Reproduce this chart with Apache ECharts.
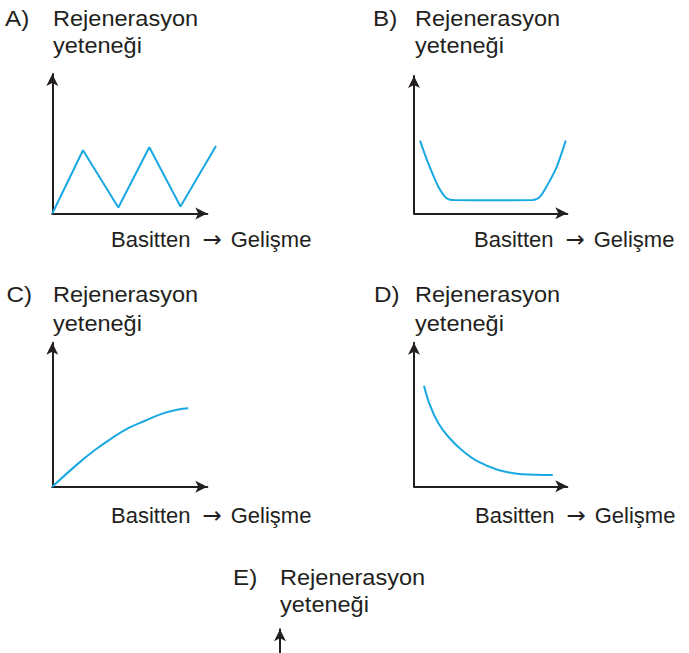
<!DOCTYPE html>
<html>
<head>
<meta charset="utf-8">
<script src="https://cdn.jsdelivr.net/npm/echarts@6/dist/echarts.min.js"></script>
<style>
html,body{margin:0;padding:0;background:#fff;}
#chart{width:689px;height:653px;}
</style>
</head>
<body>
<div id="chart"></div>
<script>
// ---- data ----
const panelLetters = ['A)', 'B)', 'C)', 'D)', 'E)'];
const yTitleLine1 = 'Rejenerasyon';
const yTitleLine2 = 'yeteneği';
const xTitleLeft = 'Basitten';
const xTitleArrow = '\u2192';
const xTitleRight = 'Gelişme';

const curveA = [[0, 0], [19.8, 45.3], [42.6, 4.3], [62.6, 47.5], [82.7, 5.0], [105.6, 48.4]];
const curveB = [[3.9, 52.9], [9.3, 36.4], [15.9, 19.4], [21.3, 10.9], [26, 9.6], [50, 9.5], [77.5, 9.6], [82.2, 12.1], [87.6, 21.8], [93.1, 33.9], [99.0, 52.9]];
const curveC = [[0, 0], [16.8, 16.2], [27.5, 25.5], [38.3, 33.6], [49, 40.6], [59.8, 45.8], [70.6, 50.6], [81.3, 53.6], [87.7, 54.4]];
const curveD = [[6.5, 70.1], [10.4, 56.6], [15.9, 43.9], [22.4, 34.5], [31.1, 25.3], [41.9, 17.1], [55, 11.4], [70.3, 8.4], [90.5, 7.9]];

// ---- layout / style ----
const AX = '#231f20';
const LINE = '#1aa8e2';
const FONT = 'Liberation Sans';

const grids = [
  {left: 52.3, top: 74, width: 155, height: 139.5},
  {left: 414, top: 76, width: 153.3, height: 137.3},
  {left: 52.3, top: 342.7, width: 155, height: 144},
  {left: 414, top: 342.7, width: 153.3, height: 143.6},
  {left: 280, top: 629.3, width: 100, height: 100},
  {left: 52.3, top: 74, width: 170.5, height: 139.5}   // overlay for A, lets the zigzag run past the arrow
];

function axisLine(show) {
  return {
    show: show,
    onZero: false,
    symbol: ['none', 'arrow'],
    symbolSize: [9, 12],
    lineStyle: {color: AX, width: 2}
  };
}
function makeX(i, show, max) {
  return {type: 'value', gridIndex: i, min: 0, max: max || 100, show: show,
    axisLine: axisLine(show), axisTick: {show: false}, axisLabel: {show: false}, splitLine: {show: false}};
}
function makeY(i, show) {
  return {type: 'value', gridIndex: i, min: 0, max: 100, show: show,
    axisLine: axisLine(show), axisTick: {show: false}, axisLabel: {show: false}, splitLine: {show: false}};
}
function makeSeries(i, data, smooth) {
  return {type: 'line', xAxisIndex: i, yAxisIndex: i, data: data, smooth: smooth,
    showSymbol: false, clip: false, silent: true,
    lineStyle: {color: LINE, width: 2}};
}

function txt(x, y, s, sx) {
  return {type: 'text', x: x, y: y, scaleX: sx || 1, silent: true,
    style: {text: s, fill: AX, fontSize: 22, fontFamily: FONT, align: 'left', verticalAlign: 'middle'}};
}
function xTxt(x, y) {
  return {type: 'text', x: x, y: y, silent: true,
    style: {
      text: xTitleLeft + '{arr|' + xTitleArrow + '}' + xTitleRight,
      fill: AX, fontSize: 22, fontFamily: FONT, align: 'left', verticalAlign: 'middle',
      rich: {arr: {fontSize: 23, fontFamily: 'DejaVu Sans', fill: AX, padding: [0, 9, 0, 12]}}
    }};
}

// text anchor positions per panel: [letterX, titleX, line1Y, line2Y, xTitleX, xTitleY]
const textPos = [
  [5, 53, 18.4, 45.4, 111, 239.4],
  [373, 415, 18.4, 45.4, 474, 239.4],
  [6.5, 53, 294.4, 323.4, 111, 515.4],
  [374, 415, 294.4, 323.4, 475, 515.4],
  [233, 280, 577.4, 604.4, null, null]
];
const graphics = [];
textPos.forEach(function (p, i) {
  graphics.push(txt(p[0], p[2], panelLetters[i], 1.1));
  graphics.push(txt(p[1], p[2], yTitleLine1, 1.07));
  graphics.push(txt(p[1], p[3], yTitleLine2, 1.07));
  if (p[4] !== null) graphics.push(xTxt(p[4], p[5]));
});

const chart = echarts.init(document.getElementById('chart'), null, {renderer: 'svg'});
chart.setOption({
  animation: false,
  backgroundColor: '#ffffff',
  grid: grids,
  xAxis: [makeX(0, true), makeX(1, true), makeX(2, true), makeX(3, true), makeX(4, false), makeX(5, false, 110)],
  yAxis: [makeY(0, true), makeY(1, true), makeY(2, true), makeY(3, true), makeY(4, true), makeY(5, false)],
  series: [
    makeSeries(5, curveA, false),
    makeSeries(1, curveB, 0.3),
    makeSeries(2, curveC, 0.4),
    makeSeries(3, curveD, 0.4)
  ],
  graphic: graphics
});
</script>
</body>
</html>
